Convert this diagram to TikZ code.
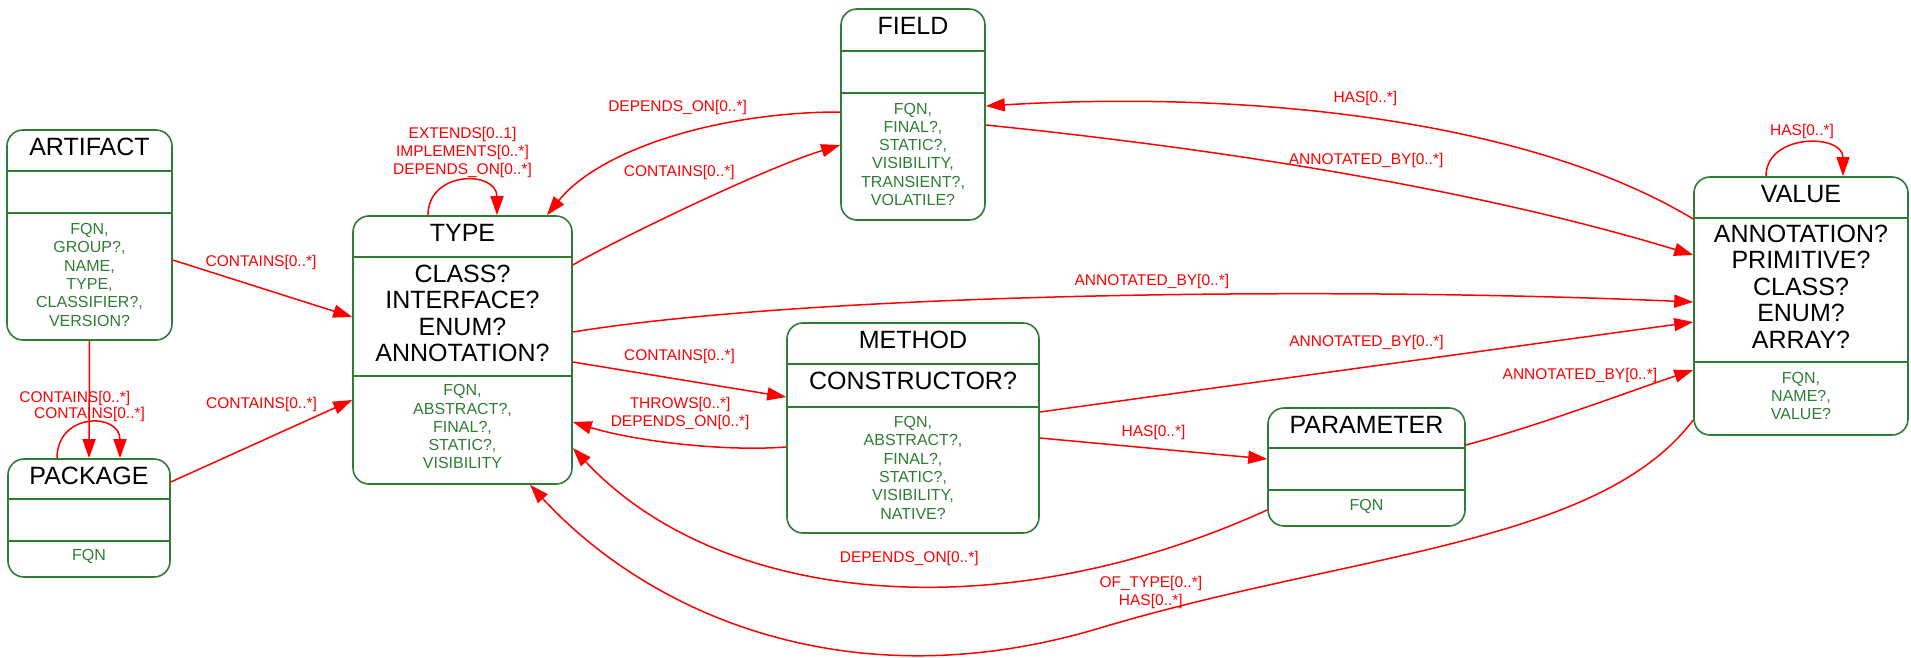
\documentclass[tikz,border=0pt]{standalone}
\usepackage{fontspec}
\setmainfont{Liberation Sans}
\usetikzlibrary{arrows.meta}
\definecolor{entgreen}{HTML}{2E7D32}

\begin{document}
\begin{tikzpicture}[x=1pt, y=-1pt,
    entity/.style={draw=entgreen, line width=1.6pt, rounded corners=16pt, inner sep=0pt},
    bar/.style={draw=entgreen, line width=1.6pt},
    headtext/.style={font=\fontsize{25}{27}\selectfont},
    kind/.style={font=\fontsize{25}{26.5}\selectfont, align=center},
    attrs/.style={text=entgreen, font=\fontsize{16}{18.3}\selectfont, align=center},
    rel/.style={draw=red, line width=1.5pt, -{Triangle[length=19pt,width=13pt]}},
    lbl/.style={text=red, font=\fontsize{15.5}{18}\selectfont, align=center, inner sep=0pt}
  ]
  \useasboundingbox (0,0) rectangle (1911,658);

  % ARTIFACT
  \node[entity, minimum width=165pt, minimum height=210pt] (artifact) at (89.5,235) {};
  \node[headtext] (artifact-head) at ([yshift=-17.5pt]artifact.north) {ARTIFACT};
  \node[attrs] (artifact-attrs) at ([yshift=66pt]artifact.south) {FQN,\\GROUP?,\\NAME,\\TYPE,\\CLASSIFIER?,\\VERSION?};
  \draw[bar] ([yshift=-42pt]artifact.north west) -- ([yshift=-42pt]artifact.north east);
  \draw[bar] ([yshift=-84pt]artifact.north west) -- ([yshift=-84pt]artifact.north east);

  % PACKAGE
  \node[entity, minimum width=162pt, minimum height=118pt] (package) at (89,518) {};
  \node[headtext] (package-head) at ([yshift=-17.5pt]package.north) {PACKAGE};
  \node[attrs] (package-attrs) at ([yshift=21pt]package.south) {FQN};
  \draw[bar] ([yshift=-41pt]package.north west) -- ([yshift=-41pt]package.north east);
  \draw[bar] ([yshift=-83pt]package.north west) -- ([yshift=-83pt]package.north east);

  % TYPE
  \node[entity, minimum width=219pt, minimum height=268pt] (type) at (462.5,350) {};
  \node[headtext] (type-head) at ([yshift=-17.5pt]type.north) {TYPE};
  \node[kind] (type-kind) at ([yshift=-98pt]type.north) {CLASS?\\INTERFACE?\\ENUM?\\ANNOTATION?};
  \node[attrs] (type-attrs) at ([yshift=58pt]type.south) {FQN,\\ABSTRACT?,\\FINAL?,\\STATIC?,\\VISIBILITY};
  \draw[bar] ([yshift=-42pt]type.north west) -- ([yshift=-42pt]type.north east);
  \draw[bar] ([yshift=-161pt]type.north west) -- ([yshift=-161pt]type.north east);

  % FIELD
  \node[entity, minimum width=144pt, minimum height=211pt] (field) at (913,114.5) {};
  \node[headtext] (field-head) at ([yshift=-17.5pt]field.north) {FIELD};
  \node[attrs] (field-attrs) at ([yshift=66.5pt]field.south) {FQN,\\FINAL?,\\STATIC?,\\VISIBILITY,\\TRANSIENT?,\\VOLATILE?};
  \draw[bar] ([yshift=-43pt]field.north west) -- ([yshift=-43pt]field.north east);
  \draw[bar] ([yshift=-85pt]field.north west) -- ([yshift=-85pt]field.north east);

  % METHOD
  \node[entity, minimum width=252pt, minimum height=210pt] (method) at (913,428) {};
  \node[headtext] (method-head) at ([yshift=-17.5pt]method.north) {METHOD};
  \node[kind] (method-kind) at ([yshift=-59pt]method.north) {CONSTRUCTOR?};
  \node[attrs] (method-attrs) at ([yshift=66pt]method.south) {FQN,\\ABSTRACT?,\\FINAL?,\\STATIC?,\\VISIBILITY,\\NATIVE?};
  \draw[bar] ([yshift=-42pt]method.north west) -- ([yshift=-42pt]method.north east);
  \draw[bar] ([yshift=-85pt]method.north west) -- ([yshift=-85pt]method.north east);

  % PARAMETER
  \node[entity, minimum width=197pt, minimum height=118pt] (parameter) at (1366.5,467) {};
  \node[headtext] (parameter-head) at ([yshift=-17.5pt]parameter.north) {PARAMETER};
  \node[attrs] (parameter-attrs) at ([yshift=20.3pt]parameter.south) {FQN};
  \draw[bar] ([yshift=-41pt]parameter.north west) -- ([yshift=-41pt]parameter.north east);
  \draw[bar] ([yshift=-83pt]parameter.north west) -- ([yshift=-83pt]parameter.north east);

  % VALUE
  \node[entity, minimum width=214pt, minimum height=258pt] (value) at (1801,306) {};
  \node[headtext] (value-head) at ([yshift=-17.5pt]value.north) {VALUE};
  \node[kind] (value-kind) at ([yshift=-110.5pt]value.north) {ANNOTATION?\\PRIMITIVE?\\CLASS?\\ENUM?\\ARRAY?};
  \node[attrs] (value-attrs) at ([yshift=40pt]value.south) {FQN,\\NAME?,\\VALUE?};
  \draw[bar] ([yshift=-42pt]value.north west) -- ([yshift=-42pt]value.north east);
  \draw[bar] ([yshift=-186pt]value.north west) -- ([yshift=-186pt]value.north east);

  % relations
  \draw[rel] ([yshift=-25pt]artifact.east) -- node[lbl, xshift=-1.5pt, yshift=26.5pt] {CONTAINS[0..*]} ([yshift=33pt]type.west);
  \draw[rel] (artifact.south) -- node[lbl, xshift=-14.5pt, yshift=1.5pt] {CONTAINS[0..*]} (package.north);
  \draw[rel] ([xshift=-32pt]package.north) .. controls +(0,-46) and +(0,-46) .. ([xshift=31pt]package.north)
    node[lbl, pos=.5, xshift=1pt, yshift=9.5pt] {CONTAINS[0..*]};
  \draw[rel] ([yshift=36pt]package.east) -- node[lbl, yshift=37pt] {CONTAINS[0..*]} ([yshift=-50pt]type.west);

  \draw[rel] ([xshift=-34.5pt]type.north) .. controls +(0,-45) and +(0,-45) .. ([xshift=34.5pt]type.north)
    node[lbl, pos=.5, yshift=29pt] {EXTENDS[0..1]\\IMPLEMENTS[0..*]\\DEPENDS\_ON[0..*]};
  \draw[rel] ([yshift=2.5pt]field.west) .. controls +(-121,0) and +(53,-66) .. ([xshift=84.5pt]type.north)
    node[lbl, pos=.5, xshift=9.5pt, yshift=31pt] {DEPENDS\_ON[0..*]};
  \draw[rel] ([yshift=85pt]type.east) .. controls +(38,-22) and +(-81,25) .. ([yshift=-30.5pt]field.west)
    node[lbl, pos=.5, xshift=-11pt, yshift=34pt] {CONTAINS[0..*]};

  \draw[rel] ([yshift=87pt]value.west) .. controls +(-164,-99) and +(265,-16) .. ([yshift=8.5pt]field.east)
    node[lbl, pos=.5, xshift=-12pt, yshift=21pt] {HAS[0..*]};
  \draw[rel] ([yshift=-10.5pt]field.east) .. controls +(245,25) and +(-214,-65) .. ([yshift=51pt]value.west)
    node[lbl, pos=.5, xshift=15pt, yshift=15pt] {ANNOTATED\_BY[0..*]};
  \draw[rel] ([yshift=18pt]type.east) .. controls +(228,-37) and +(-394,-17) .. ([yshift=4pt]value.west)
    node[lbl, pos=.57, xshift=-5pt, yshift=14pt] {ANNOTATED\_BY[0..*]};

  \draw[rel] ([yshift=-12pt]type.east) -- node[lbl, yshift=23.5pt] {CONTAINS[0..*]} ([yshift=31pt]method.west);
  \draw[rel] ([yshift=-19pt]method.west) .. controls +(-67,5) and +(58,18) .. ([yshift=-72pt]type.east)
    node[lbl, pos=.5, xshift=4pt, yshift=29.5pt] {THROWS[0..*]\\DEPENDS\_ON[0..*]};
  \draw[rel] ([yshift=16pt]method.east) -- node[lbl, yshift=25pt] {ANNOTATED\_BY[0..*]} ([yshift=-16pt]value.west);
  \draw[rel] ([yshift=-10pt]method.east) -- node[lbl, yshift=16.5pt] {HAS[0..*]} ([yshift=8pt]parameter.west);

  \draw[rel] ([yshift=-43pt]parameter.west) .. controls +(-269,122) and +(147,157) .. ([yshift=-98pt]type.east)
    node[lbl, pos=.5, xshift=35pt, yshift=25pt] {DEPENDS\_ON[0..*]};
  \draw[rel] ([yshift=22pt]parameter.east) .. controls +(75,-20) and +(-74,25) .. ([yshift=-64pt]value.west)
    node[lbl, pos=.5, yshift=34pt] {ANNOTATED\_BY[0..*]};

  \draw[rel] ([yshift=-114pt]value.west) .. controls +(-94,125) and +(250,-75) .. (1100,628)
    node[lbl, pos=.9, xshift=-24pt, yshift=15pt] {OF\_TYPE[0..*]\\HAS[0..*]}
    .. controls +(-250,75) and +(120,130) .. ([xshift=67.5pt]type.south);
  \draw[rel] ([xshift=-35pt]value.north) .. controls +(0,-43) and +(0,-43) .. ([xshift=42pt]value.north)
    node[lbl, pos=.5, xshift=-2.5pt, yshift=12pt] {HAS[0..*]};
\end{tikzpicture}
\end{document}
